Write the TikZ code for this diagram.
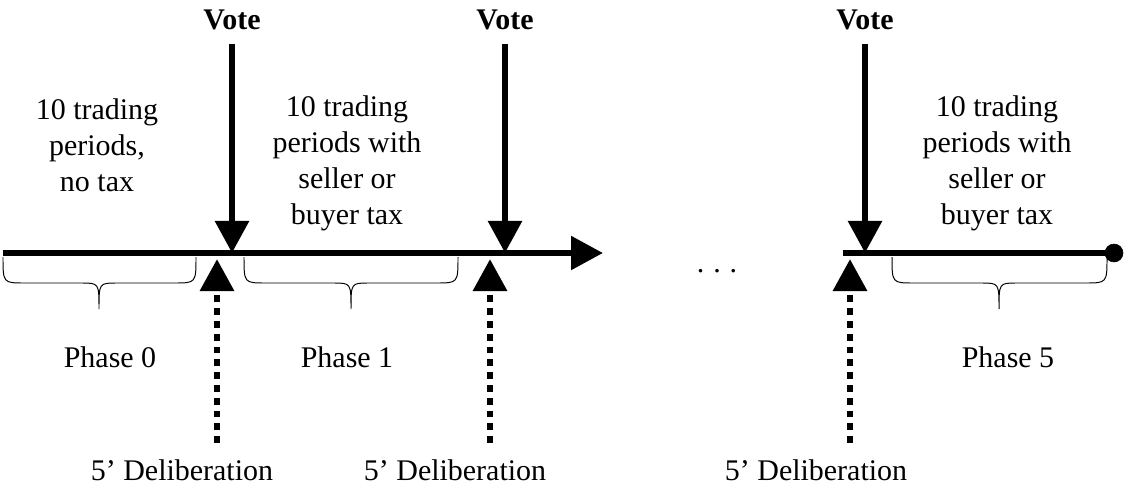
\documentclass[tikz,border=0pt]{standalone}
\usepackage{fontspec}
\setmainfont{Liberation Serif}
\usetikzlibrary{arrows.meta}

\begin{document}
\begin{tikzpicture}[x=0.025cm,y=-0.025cm,
	>={Triangle[length=0.8cm,width=0.82cm]},
	font=\fontsize{21.3}{25.6}\selectfont,
	timeline/.style = {line width=0.15cm},
	votearrow/.style = {->,line width=0.16cm,shorten <=0.22cm},
	delibarrow/.style = {->,line width=0.17cm,dash pattern=on 0.17cm off 0.15cm},
	phasebrace/.style = {line width=0.7pt},
	enddot/.style = {draw,fill,circle,inner sep=0pt,minimum size=0.45cm},
	vote/.style = {font=\fontsize{21.3}{25.6}\selectfont\bfseries},
	periods/.style = {align=center}
	]
	\useasboundingbox (0,0) rectangle (1128,486);
	%LINEA DEL TEMPO
	\coordinate (start) at (3,253);
	\coordinate (end) at (603,253);
	\draw[timeline,->] (start) -- (end);
	\coordinate (restart) at (843,253);
	\node[enddot] (stop) at (1114,253) {};
	\draw[timeline] (restart) -- (stop.center);
	\node[anchor=base] (more) at (717,272) {.\hspace{0.3em}.\hspace{0.3em}.};
	%VOTI
	\node[vote] (vote1) at (232,20) {Vote};
	\node[vote] (vote2) at (505,20) {Vote};
	\node[vote] (vote5) at (865,20) {Vote};
	\coordinate (tip1) at (232,253);
	\coordinate (tip2) at (505,253);
	\coordinate (tip5) at (865,253);
	\draw[votearrow] (vote1.south) -- (tip1);
	\draw[votearrow] (vote2.south) -- (tip2);
	\draw[votearrow] (vote5.south) -- (tip5);
	%PERIODI
	\node[periods] (per0) at (97,145) {10 trading\\periods,\\no tax};
	\node[periods] (per1) at (347,163) {10 trading\\periods with\\seller or\\buyer tax};
	\node[periods] (per5) at (997,163) {10 trading\\periods with\\seller or\\buyer tax};
	%FASI
	\draw[phasebrace] (3,257) .. controls (3,283) .. (25,283) -- (81,283)
		.. controls (99,283) .. (99,309) .. controls (99,283) .. (117,283)
		-- (174,283) .. controls (196,283) .. (196,257);
	\draw[phasebrace] (244,257) .. controls (244,283) .. (266,283) -- (333,283)
		.. controls (351,283) .. (351,309) .. controls (351,283) .. (369,283)
		-- (436,283) .. controls (458,283) .. (458,257);
	\draw[phasebrace] (892,257) .. controls (892,283) .. (914,283) -- (981,283)
		.. controls (999,283) .. (999,309) .. controls (999,283) .. (1017,283)
		-- (1085,283) .. controls (1107,283) .. (1107,257);
	\node (ph0) at (110,357) {Phase 0};
	\node (ph1) at (347,357) {Phase 1};
	\node (ph5) at (1008,357) {Phase 5};
	%DELIBERAZIONI
	\node (delib1) at (182,470) {5’ Deliberation};
	\node (delib2) at (455,470) {5’ Deliberation};
	\node (delib5) at (816,470) {5’ Deliberation};
	\coordinate (d1) at (217,443);
	\coordinate (d2) at (490,443);
	\coordinate (d5) at (850,443);
	\coordinate (d1tip) at (217,259);
	\coordinate (d2tip) at (490,259);
	\coordinate (d5tip) at (850,259);
	\draw[delibarrow] (d1) -- (d1tip);
	\draw[delibarrow] (d2) -- (d2tip);
	\draw[delibarrow] (d5) -- (d5tip);
\end{tikzpicture}
\end{document}
